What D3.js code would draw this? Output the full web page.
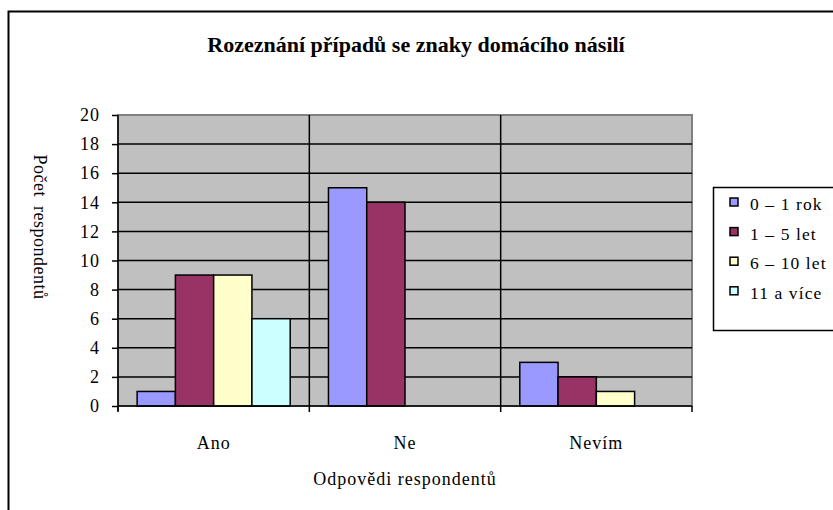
<html lang="cs">
<head>
<meta charset="UTF-8">
<title>Rozeznání případů</title>
<script src="https://d3js.org/d3.v7.min.js"></script>
<style>
  body { margin: 0; background: #fff; }
  text { font-family: "Liberation Serif", "Times New Roman", serif; fill: #000; }
</style>
</head>
<body>
<svg width="833" height="510"></svg>
<script>
var categories = ["Ano", "Ne", "Nevím"];
var seriesNames = ["0 \u2013 1 rok", "1 \u2013 5 let", "6 \u2013 10 let", "11 a více"];
var values0 = [1, 15, 3];
var values1 = [9, 14, 2];
var values2 = [9, 0, 1];
var values3 = [6, 0, 0];
var yTicks = [0, 2, 4, 6, 8, 10, 12, 14, 16, 18, 20];
var colors = ["#9999FF", "#993366", "#FFFFCC", "#CCFFFF"];

var allValues = [values0, values1, values2, values3];

var svg = d3.select("svg");
var plotL = 118, plotT = 115, plotR = 692, plotB = 406;

// outer frame
svg.append("rect")
    .attr("x", 8.5).attr("y", 11.5)
    .attr("width", 840).attr("height", 510)
    .attr("fill", "none").attr("stroke", "#000").attr("stroke-width", 2);

svg.append("text")
    .attr("x", 416).attr("y", 52)
    .attr("text-anchor", "middle")
    .attr("font-size", 22).attr("font-weight", "bold")
    .text("Rozeznání případů se znaky domácího násilí");

var x = d3.scaleBand().domain(categories).range([plotL, plotR]);
var y = d3.scaleLinear().domain([0, 20]).range([plotB, plotT]);

// plot area
svg.append("rect")
    .attr("x", plotL).attr("y", plotT)
    .attr("width", plotR - plotL).attr("height", plotB - plotT)
    .attr("fill", "#C0C0C0").attr("stroke", "#808080").attr("stroke-width", 2);

// horizontal gridlines
svg.append("g").selectAll("line")
    .data(yTicks.slice(1, -1))
    .enter().append("line")
    .attr("x1", plotL).attr("x2", plotR)
    .attr("y1", function (d) { return y(d); })
    .attr("y2", function (d) { return y(d); })
    .attr("stroke", "#000").attr("stroke-width", 1.5);

// vertical separators between categories
svg.append("g").selectAll("line")
    .data(categories.slice(1))
    .enter().append("line")
    .attr("x1", function (d) { return x(d); })
    .attr("x2", function (d) { return x(d); })
    .attr("y1", plotT).attr("y2", plotB)
    .attr("stroke", "#000").attr("stroke-width", 1.5);

// bars
var inner = d3.scaleBand().domain(d3.range(seriesNames.length))
    .range([0, x.bandwidth()]).paddingInner(0).paddingOuter(0.5);

allValues.forEach(function (vals, si) {
    svg.append("g").selectAll("rect")
        .data(vals.map(function (v, ci) { return { c: categories[ci], v: v }; })
            .filter(function (d) { return d.v > 0; }))
        .enter().append("rect")
        .attr("x", function (d) { return x(d.c) + inner(si); })
        .attr("y", function (d) { return y(d.v); })
        .attr("width", inner.bandwidth())
        .attr("height", function (d) { return y(0) - y(d.v); })
        .attr("fill", colors[si])
        .attr("stroke", "#000").attr("stroke-width", 1.5);
});

// y axis
var yAxis = svg.append("g")
    .attr("transform", "translate(" + plotL + ",0)")
    .call(d3.axisLeft(y).tickValues(yTicks).tickSize(6).tickPadding(12));
yAxis.select(".domain").attr("stroke", "#000").attr("stroke-width", 1.5).attr("d", "M0," + plotT + "V" + (plotB + 5));
yAxis.selectAll(".tick line").attr("stroke-width", 1.5);
yAxis.selectAll("text").attr("font-size", 18).attr("letter-spacing", 1)
    .attr("font-family", "Liberation Serif");

// x axis
var xAxis = svg.append("g")
    .attr("transform", "translate(0," + plotB + ")")
    .call(d3.axisBottom(x).tickSize(0).tickPadding(30));
xAxis.select(".domain").attr("stroke", "#000").attr("stroke-width", 1.5).attr("d", "M" + plotL + ",0H" + plotR);
xAxis.selectAll("text").attr("font-size", 18).attr("letter-spacing", 1)
    .attr("font-family", "Liberation Serif");
xAxis.append("g").selectAll("line")
    .data(categories.concat(["end"]))
    .enter().append("line")
    .attr("x1", function (d) { return d === "end" ? plotR : x(d); })
    .attr("x2", function (d) { return d === "end" ? plotR : x(d); })
    .attr("y1", 0).attr("y2", 6)
    .attr("stroke", "#000").attr("stroke-width", 1.5);

// axis titles
svg.append("text")
    .attr("x", (plotL + plotR) / 2).attr("y", 485)
    .attr("text-anchor", "middle").attr("font-size", 18).attr("letter-spacing", 1)
    .text("Odpovědi respondentů");

svg.append("text")
    .attr("transform", "translate(34,227) rotate(90)")
    .attr("text-anchor", "middle").attr("font-size", 18).attr("letter-spacing", 0.5)
    .attr("word-spacing", 4)
    .text("Počet respondentů");

// legend
var legend = svg.append("g");
legend.append("rect")
    .attr("x", 713.5).attr("y", 187.5)
    .attr("width", 130).attr("height", 143)
    .attr("fill", "#fff").attr("stroke", "#000").attr("stroke-width", 1.5);

var item = legend.selectAll("g.item")
    .data(seriesNames)
    .enter().append("g")
    .attr("transform", function (d, i) { return "translate(0," + (204 + i * 29.6) + ")"; });
item.append("rect")
    .attr("x", 730).attr("y", -6)
    .attr("width", 8).attr("height", 8)
    .attr("fill", function (d, i) { return colors[i]; })
    .attr("stroke", "#000").attr("stroke-width", 1.5);
item.append("text")
    .attr("x", 750).attr("y", 6)
    .attr("font-size", 17.5).attr("letter-spacing", 1.1)
    .text(function (d) { return d; });
</script>
</body>
</html>
